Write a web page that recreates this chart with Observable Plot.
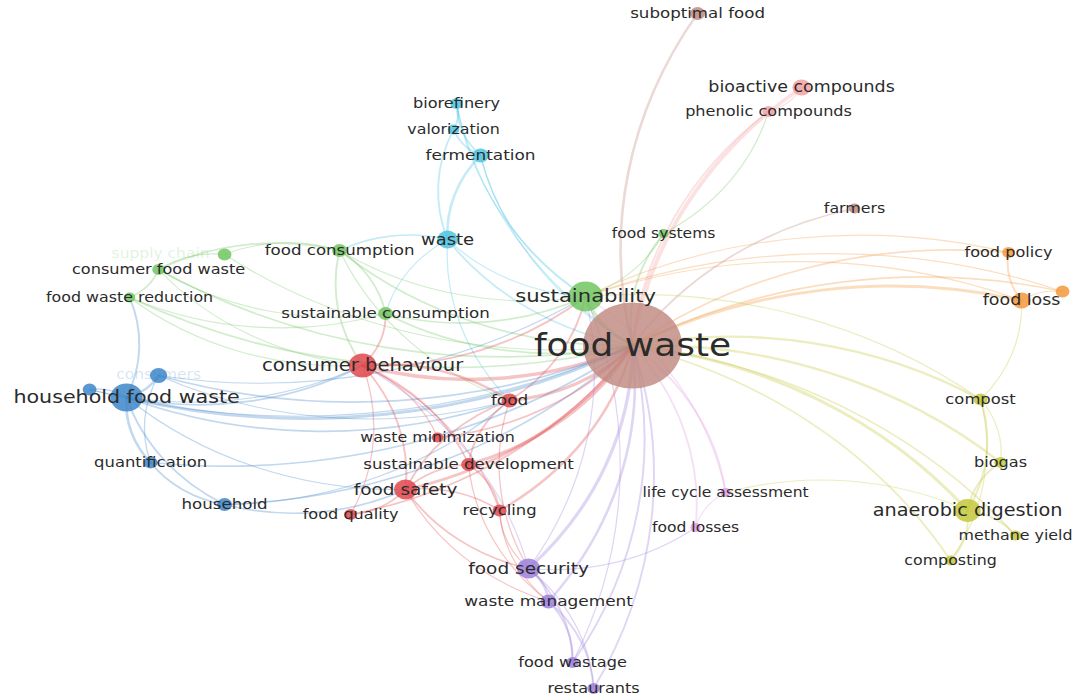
<!DOCTYPE html>
<html><head><meta charset="utf-8">
<script src="https://cdn.jsdelivr.net/npm/d3@7"></script>
<script src="https://cdn.jsdelivr.net/npm/@observablehq/plot@0.6"></script>
<style>
html,body{margin:0;padding:0;background:#fff;overflow:hidden;}
#chart svg{display:block;transform:scaleX(1.1497);transform-origin:0 0;}
</style></head><body><div id="chart"></div>
<script>
// Keyword co-occurrence map (VOSviewer style)
const keywords = ["food waste","sustainability","consumer behaviour","household food waste","consumers","",
  "quantification","household","food safety","food quality","recycling","sustainable development",
  "waste minimization","food","food security","waste management","food wastage","restaurants",
  "life cycle assessment","food losses","anaerobic digestion","methane yield","composting","biogas",
  "compost","food loss","food policy","","farmers","food systems","bioactive compounds",
  "phenolic compounds","suboptimal food","biorefinery","valorization","fermentation","waste",
  "food consumption","sustainable consumption","consumer food waste","food waste reduction",""];
const cluster = [8,2,1,3,3,3, 3,3,1,1,1,1, 1,1,5,5,5,5, 9,9,4,4,4,4, 4,7,7,7,8,2,10, 10,8,6,6,6,6, 2,2,2,2,2];
const mapX = [632,585,362,126,158,89, 150,224,405,350,499,468, 437,509,528,548,572,593, 725,695,967,1015,950,1000, 980,1021,1008,1062,854,663,801, 768,697,456,453,480,447, 339,385,158,129,224];
const mapY = [345,296,365,397,375,389, 462,504,489,514,510,464, 437,400,568,601,662,688, 492,527,510,535,560,462, 399,300,252,291,208,233,87, 111,13,103,129,155,239, 250,313,269,297,254];
const occurrences = [1849,225,144,196,56,36, 36,42,100,30,36,42, 25,49,100,49,30,30, 20,20,130,25,25,30, 36,64,30,36,25,20,64, 30,42,30,25,49,81, 42,42,30,25,36];
const fadedLabels = ["consumers","supply chain"];
const fadedX = [158,160];
const fadedY = [374,253];
const fadedCluster = [3,2];

const linkPairs = [
 [0,1],[0,2],[0,3],[0,4],[0,5],[0,6],[0,7],[0,8],[0,9],[0,10],[0,11],[0,12],[0,13],[0,14],[0,15],[0,16],[0,17],
 [0,18],[0,19],[0,20],[0,21],[0,22],[0,23],[0,24],[0,25],[0,26],[0,27],[0,28],[0,29],[0,30],[0,31],[0,32],[0,33],
 [0,35],[0,36],[0,37],[0,38],[0,39],[0,40],[0,41],
 [4,3],[5,3],[6,3],[7,6],[7,3],[40,3],[2,3],[13,3],[8,3],[1,4],[13,4],[2,5],[8,7],[13,7],[6,4],
 [39,37],[39,40],[39,41],[2,39],[38,39],[38,40],[2,40],[41,37],
 [37,36],[37,38],[2,37],[1,37],[13,37],
 [36,35],[36,34],[1,36],[13,36],[38,36],[1,33],[1,35],[35,34],[35,33],[33,34],
 [2,13],[2,8],[2,9],[2,11],[2,12],[1,2],[2,10],[38,2],[2,14],
 [8,9],[8,11],[8,10],[8,13],[14,8],[15,8],
 [11,13],[11,10],[14,10],[1,13],[1,38],
 [14,15],[14,16],[14,17],[1,14],[14,13],[19,14],[15,16],[15,17],[15,10],[15,11],[1,16],
 [19,18],[18,20],[1,18],
 [20,23],[20,21],[20,22],[24,20],[24,23],[25,24],[24,22],[1,24],
 [25,26],[25,27],[1,25],[1,26],[1,27],
 [30,31],[31,29],[29,1]
];
const linkStrength = [
 5,5,4,2,1,2,2,4,2,3,4,2,4,4,3,2,2,
 2,2,4,2,2,3,3,4,2,2,2,2,5,2,3,1,
 1,2,2,2,2,2,1,
 3,2,3,2,2,2,2,2,1,1,1,1,2,1,1,
 2,2,1,1,1,1,1,1,
 2,2,2,1,1,
 3,2,1,1,1,1,1,2,2,2,
 3,2,1,2,1,2,1,2,1,
 2,2,2,2,2,1,
 2,2,1,2,2,
 3,2,1,1,1,1,2,2,1,1,1,
 1,1,1,
 2,2,2,2,1,1,1,1,
 2,1,1,1,1,
 1,1,1
];

const clusterColors = ["#e0474c","#72c662","#3d86c9","#c3c83b","#9c80dc","#4cc4e2","#f4993c","#c08a80","#e39ee0","#f2a2a2"];

const nodes = keywords.map((k,i)=>({label:k, cluster:cluster[i], x:mapX[i], y:mapY[i], occ:occurrences[i]}));
const links = linkPairs.map(([a,b],i)=>({a:nodes[a], b:nodes[b], s:linkStrength[i]}));
const faded = fadedLabels.map((t,i)=>({label:t, x:fadedX[i], y:fadedY[i], cluster:fadedCluster[i]}));

const SX = 1.1497;
const W = 1075/SX;
const chart = Plot.plot({
  width: W, height: 700, margin: 0,
  x: {domain:[0,1075], range:[0,W], axis:null},
  y: {domain:[0,700], range:[0,700], axis:null},
  r: {type:"sqrt", domain:[0,1849], range:[0,43]},
  color: {type:"ordinal", domain:d3.range(1,11), range:clusterColors},
  style: {fontFamily:"DejaVu Sans", background:"#fff"},
  marks: [
    Plot.arrow(links, {x1:d=>d.a.x, y1:d=>d.a.y, x2:d=>d.b.x, y2:d=>d.b.y, bend:22, headLength:0,
      stroke:d=>d.b.cluster, strokeWidth:d=>0.5+0.6*d.s, strokeOpacity:0.32}),
    Plot.dot(nodes, {x:"x", y:"y", r:"occ", fill:"cluster", fillOpacity:d=>d.occ>1000?0.82:0.85}),
    Plot.text(faded, {x:"x", y:"y", text:"label", fontSize:13.5, fill:d=>d.cluster, fillOpacity:0.22}),
    Plot.text(nodes.filter(d=>d.label && d.label!=="consumers"), {x:"x", y:"y", text:"label",
      fontSize:d=>11.5+0.46*Math.sqrt(d.occ), fill:"#2b2b2b"})
  ]
});
document.getElementById("chart").appendChild(chart);
</script></body></html>
